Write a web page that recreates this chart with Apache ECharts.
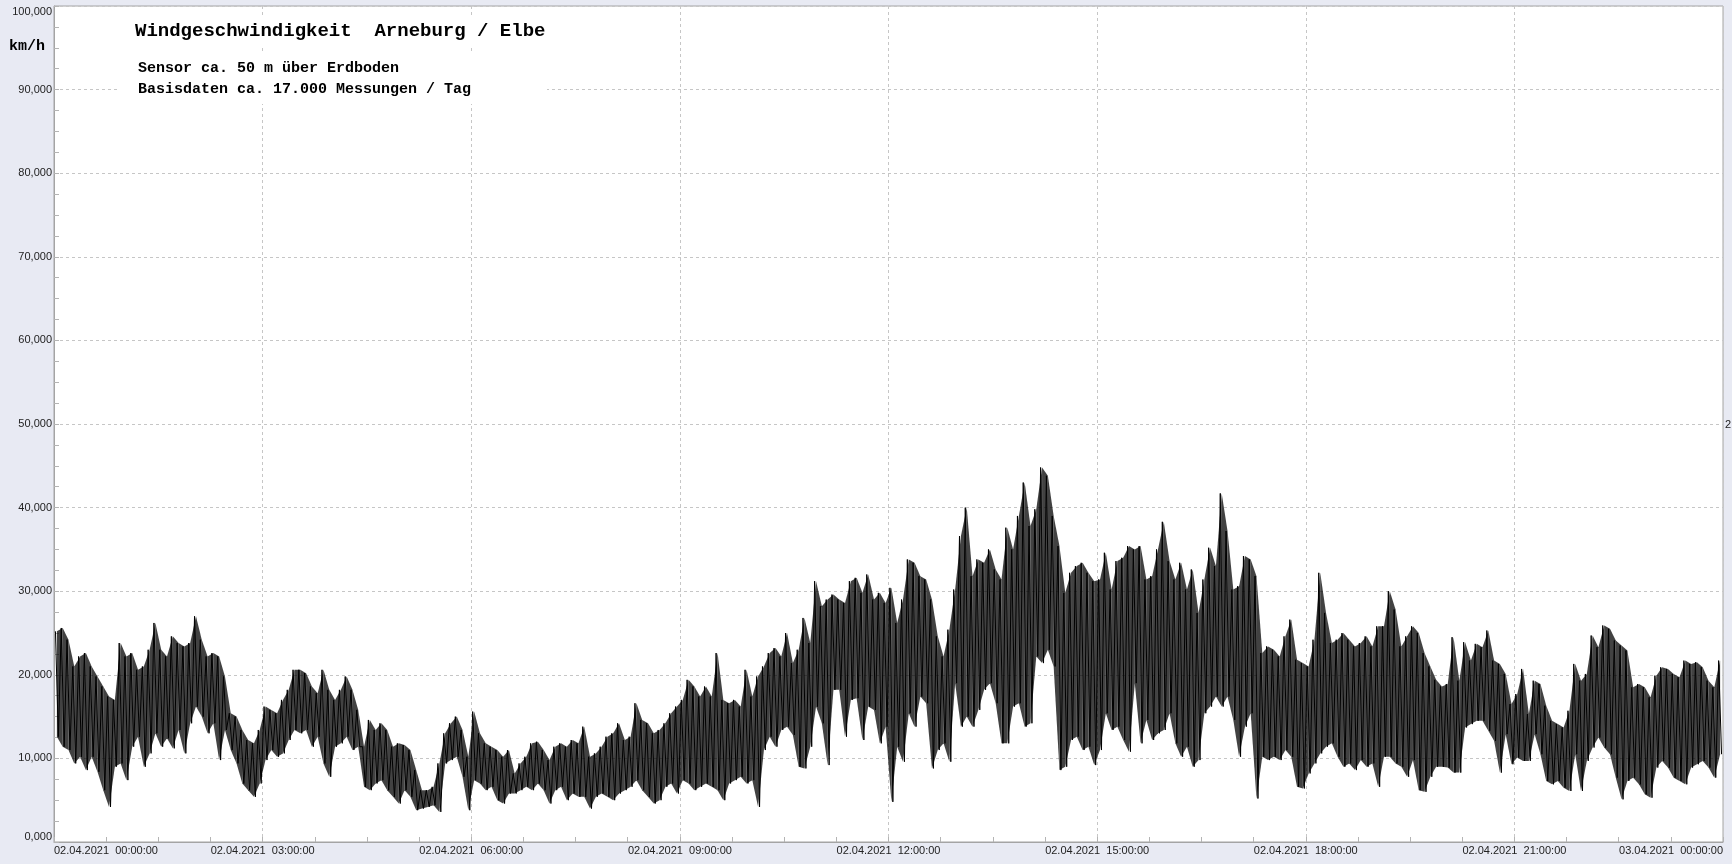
<!DOCTYPE html>
<html>
<head>
<meta charset="utf-8">
<script src="https://cdn.jsdelivr.net/npm/echarts@6/dist/echarts.min.js"></script>
<style>
html,body{margin:0;padding:0;background:#e8eaf3;}
#chart{width:1732px;height:864px;}
</style>
</head>
<body>
<div id="chart"></div>
<script>
// 5-minute bins over 02.04.2021 00:00 – 03.04.2021 00:00 (km/h), max and min per bin
const BIN_MINUTES = 5;
const hiValues = [
  25.2,25.6,24.2,21.0,22.2,22.6,21.0,19.8,18.6,17.4,17.0,23.8,
  22.2,22.6,20.6,21.0,23.0,26.2,23.0,22.2,24.6,23.8,23.4,23.8,
  27.0,24.2,22.2,22.6,22.2,19.8,15.4,15.0,13.4,12.2,11.8,13.4,
  16.2,15.8,15.4,17.0,18.2,20.6,20.6,20.2,18.6,17.8,20.6,18.2,
  17.0,18.2,19.8,18.2,15.8,11.4,14.6,13.4,14.2,13.4,11.4,11.8,
  11.6,11.0,8.6,6.2,6.2,6.6,9.4,13.0,14.2,15.0,13.4,10.2,
  15.6,13.0,11.8,11.4,11.0,10.2,11.0,8.2,9.4,10.2,11.8,12.0,
  11.0,9.8,11.4,11.8,11.4,12.2,11.8,13.8,10.2,10.6,11.4,12.6,
  13.0,14.2,12.2,12.6,16.6,14.6,14.2,13.0,13.4,14.2,15.4,16.2,
  17.0,19.4,18.6,17.4,18.6,17.4,22.6,17.0,16.6,17.0,16.2,20.6,
  17.4,19.8,21.0,22.6,23.2,22.2,25.0,21.4,23.0,26.8,23.8,31.2,
  28.2,29.0,29.6,29.0,28.6,31.2,31.6,29.8,32.0,29.0,29.8,28.6,
  30.4,26.2,29.0,33.8,33.4,31.8,31.4,29.0,24.6,22.2,25.4,30.2,
  36.6,40.0,31.8,33.8,33.4,35.0,32.6,31.4,37.6,35.0,39.0,43.0,
  37.8,39.8,44.8,43.8,39.0,35.4,29.8,32.2,33.0,33.4,32.2,31.2,
  31.4,34.6,30.2,33.6,34.0,35.4,35.0,35.4,31.4,31.8,35.0,38.3,
  33.6,31.4,33.4,30.2,32.6,27.4,31.4,35.2,33.0,41.7,37.2,30.2,
  30.6,34.2,33.8,31.8,22.6,23.4,23.0,22.2,24.6,26.6,21.8,21.4,
  21.0,24.2,32.2,27.4,23.8,24.2,25.0,24.2,23.4,23.8,24.6,23.4,
  25.8,25.8,30.0,27.8,23.4,24.6,25.8,25.0,22.6,21.0,19.4,18.6,
  18.9,24.5,19.3,23.9,21.7,23.7,23.3,25.3,21.7,21.3,20.1,16.5,
  17.7,20.7,15.3,19.3,18.9,16.3,14.5,14.1,13.7,15.7,21.3,19.3,
  20.1,24.7,23.3,25.9,25.5,24.1,23.5,22.9,18.5,18.9,18.5,17.3,
  19.9,20.9,20.7,20.1,19.7,21.7,21.3,21.5,20.9,19.3,18.5,21.7
];
const loValues = [
  12.6,11.4,11.0,9.4,10.2,8.6,10.2,8.4,6.2,4.2,9.0,9.4,
  7.4,11.4,12.6,9.0,10.6,13.0,11.4,12.4,11.2,13.4,10.6,14.2,
  16.2,15.0,13.0,14.2,9.8,13.4,11.0,9.4,7.0,6.2,5.4,7.0,
  9.8,11.0,10.2,10.6,12.2,13.4,13.0,13.4,11.4,12.6,9.4,7.8,
  11.4,11.8,12.6,11.0,11.4,6.6,6.2,7.0,7.4,6.2,5.4,4.6,
  6.2,5.4,3.8,4.0,4.2,4.4,3.6,9.4,9.8,10.2,7.8,3.8,
  7.4,7.0,6.2,6.6,5.0,4.6,5.8,5.8,6.2,6.6,6.2,7.0,
  6.2,4.6,6.2,6.6,5.0,5.8,5.4,5.4,4.0,5.4,5.8,5.4,
  5.0,5.8,6.2,6.6,7.4,6.2,5.4,4.6,5.0,6.6,7.0,5.8,
  7.4,7.0,6.2,6.6,7.0,6.6,6.2,5.0,7.0,7.4,7.8,7.0,
  7.4,4.2,11.0,12.6,11.4,13.4,13.8,12.8,9.0,8.8,11.4,16.2,
  14.2,9.2,18.2,18.2,12.6,17.0,17.2,12.2,16.2,15.8,11.8,13.8,
  4.8,11.4,9.6,15.4,13.8,17.4,16.6,8.8,11.0,11.8,9.6,19.0,
  13.8,15.0,13.8,15.8,18.2,19.0,16.6,11.8,11.8,16.2,16.6,13.8,
  14.2,22.2,21.4,23.0,21.0,8.6,9.0,12.2,12.6,11.0,11.4,9.2,
  11.0,15.4,13.4,13.8,12.2,10.8,19.0,11.8,14.6,12.2,13.0,13.4,
  15.4,11.8,10.2,11.4,9.0,9.8,15.4,16.2,17.4,16.2,17.4,14.6,
  10.2,13.8,15.4,5.2,10.2,9.8,10.2,9.8,11.0,10.2,6.6,6.4,
  8.2,9.4,10.6,11.4,11.8,10.2,9.0,9.4,8.6,9.8,9.0,9.4,
  6.6,10.2,10.2,9.4,9.0,7.8,9.8,6.2,6.0,7.8,9.0,9.0,
  8.9,8.3,8.3,13.7,14.1,14.5,14.5,13.3,12.1,8.3,12.9,9.3,
  10.1,9.7,9.7,12.9,10.5,7.3,6.9,7.3,6.5,6.1,10.5,6.1,
  9.7,11.3,12.5,11.3,10.5,7.7,5.1,7.3,7.7,6.9,5.7,5.3,
  8.9,9.7,8.9,7.7,7.3,6.9,8.9,9.3,9.7,8.9,7.7,10.5
];
const xTickLabels = [
  '02.04.2021  00:00:00','02.04.2021  03:00:00','02.04.2021  06:00:00',
  '02.04.2021  09:00:00','02.04.2021  12:00:00','02.04.2021  15:00:00',
  '02.04.2021  18:00:00','02.04.2021  21:00:00','03.04.2021  00:00:00'
];
const titleText = 'Windgeschwindigkeit  Arneburg / Elbe';
const subtitleLines = ['Sensor ca. 50 m über Erdboden', 'Basisdaten ca. 17.000 Messungen / Tag'];
const unitText = 'km/h';

// zigzag line: max then min within each bin
const lineData = [];
// band segments between neighbouring bin centres: [t0, lo0, hi0, t1, lo1, hi1]
const bandData = [];
const tCentre = i => (i * BIN_MINUTES + BIN_MINUTES * 0.5) / 60;
for (let i = 0; i < hiValues.length; i++) {
  const t0 = i * BIN_MINUTES;
  lineData.push([(t0 + BIN_MINUTES * 0.25) / 60, hiValues[i]]);
  lineData.push([(t0 + BIN_MINUTES * 0.75) / 60, loValues[i]]);
  if (i + 1 < hiValues.length) {
    bandData.push([tCentre(i), loValues[i], hiValues[i], tCentre(i + 1), loValues[i + 1], hiValues[i + 1]]);
  }
}

const chart = echarts.init(document.getElementById('chart'), null, {renderer: 'canvas'});
const mono = "'Liberation Mono', 'DejaVu Sans Mono', monospace";
const sans = "'Liberation Sans', Arial, sans-serif";
const gridLine = {show: true, lineStyle: {color: '#c6c6c6', type: [3, 3], width: 1}};

chart.setOption({
  backgroundColor: '#e8eaf3',
  animation: false,
  title: [
    {
      text: titleText, left: 131, top: 17, padding: [3, 4],
      backgroundColor: '#ffffff',
      textStyle: {fontFamily: mono, fontWeight: 'bold', fontSize: 19, lineHeight: 22, color: '#000'}
    },
    {
      text: subtitleLines.join('\n'), left: 120, top: 53, padding: [5, 76, 5, 18],
      backgroundColor: '#ffffff',
      textStyle: {fontFamily: mono, fontWeight: 'bold', fontSize: 15, lineHeight: 20.5, color: '#000'}
    },
    {
      text: unitText, left: 9, top: 37, padding: 0,
      textStyle: {fontFamily: mono, fontWeight: 'bold', fontSize: 15, lineHeight: 18, color: '#000'}
    },
    {
      text: '2', left: 1725, top: 418, padding: 0,
      textStyle: {fontFamily: sans, fontWeight: 'normal', fontSize: 11, lineHeight: 13, color: '#222'}
    }
  ],
  grid: {
    left: 54, right: 9, top: 6, bottom: 22,
    show: true, backgroundColor: '#ffffff', borderColor: '#a4a4a4', borderWidth: 1
  },
  xAxis: {
    type: 'value', min: 0, max: 24, interval: 3,
    axisLine: {show: true, lineStyle: {color: '#a4a4a4'}},
    axisTick: {show: true, inside: true, length: 5, lineStyle: {color: '#b4b4b4'}},
    minorTick: {show: true, splitNumber: 4, length: 5, lineStyle: {color: '#b4b4b4'}},
    splitLine: gridLine,
    axisLabel: {
      formatter: v => xTickLabels[Math.round(v / 3)] || '',
      fontFamily: sans, fontSize: 11, color: '#222', margin: 3,
      showMinLabel: true, showMaxLabel: true,
      alignMinLabel: 'left', alignMaxLabel: 'right'
    }
  },
  yAxis: {
    type: 'value', min: 0, max: 100, interval: 10,
    axisLine: {show: true, lineStyle: {color: '#a4a4a4'}},
    axisTick: {show: true, inside: true, length: 5, lineStyle: {color: '#b4b4b4'}},
    minorTick: {show: true, splitNumber: 4, length: 5, lineStyle: {color: '#b4b4b4'}},
    splitLine: gridLine,
    axisLabel: {
      formatter: v => v.toFixed(3).replace('.', ','),
      fontFamily: sans, fontSize: 11, color: '#222', margin: 2,
      showMinLabel: true, showMaxLabel: true,
      verticalAlignMinLabel: 'bottom', verticalAlignMaxLabel: 'top'
    }
  },
  series: [
    {
      name: 'band', type: 'custom', data: bandData, silent: true, z: 1,
      encode: {x: [0, 3], y: [1, 2, 4, 5]},
      renderItem: (params, api) => {
        const a = api.coord([api.value(0), api.value(2)]);
        const b = api.coord([api.value(3), api.value(5)]);
        const c = api.coord([api.value(3), api.value(4)]);
        const d = api.coord([api.value(0), api.value(1)]);
        return {
          type: 'polygon',
          shape: {points: [a, b, c, d]},
          style: {fill: 'rgba(0,0,0,0.74)', stroke: null}
        };
      }
    },
    {
      name: 'speed', type: 'line', data: lineData, symbol: 'none', showSymbol: false,
      silent: true, lineStyle: {color: '#000000', width: 1}, z: 2
    }
  ]
});
</script>
</body>
</html>
